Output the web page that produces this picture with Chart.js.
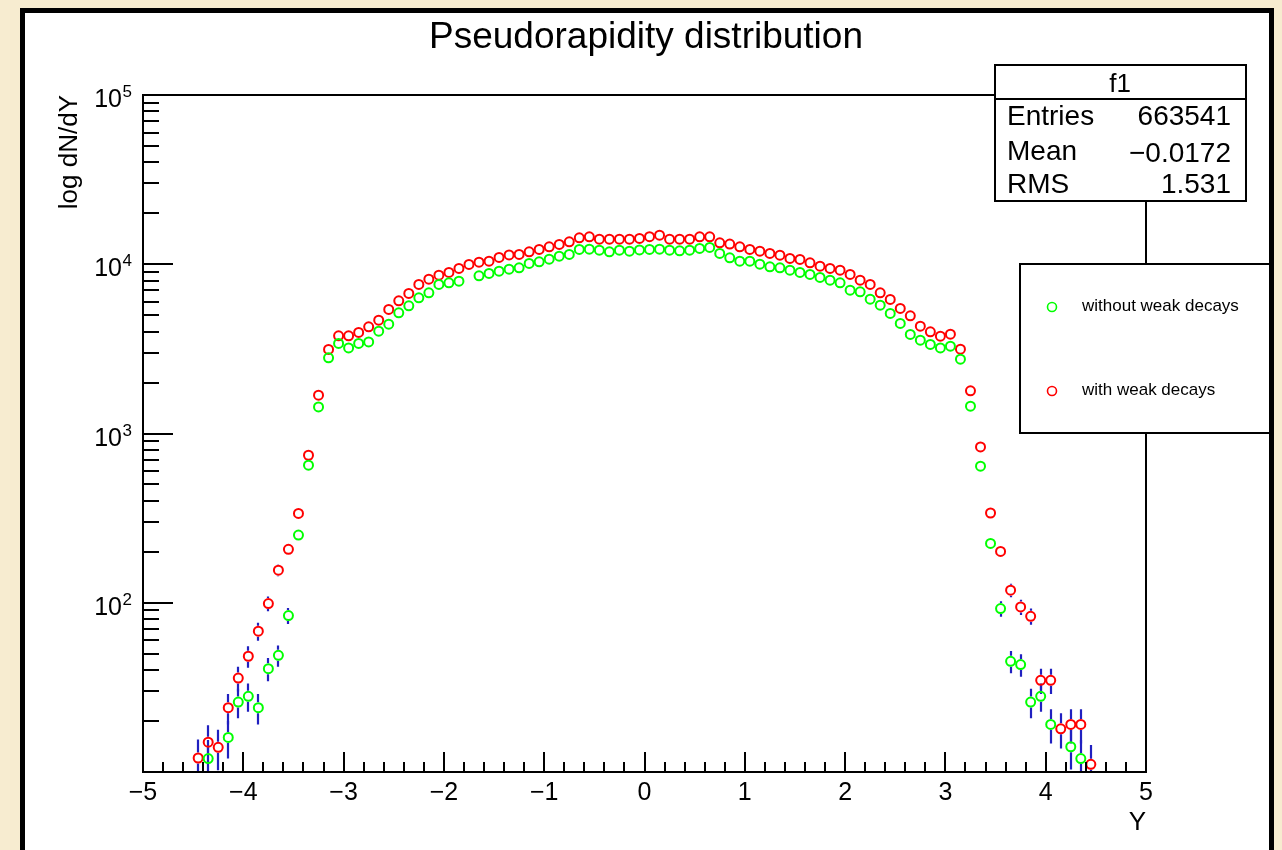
<!DOCTYPE html>
<html>
<head>
<meta charset="utf-8">
<title>Pseudorapidity distribution</title>
<script src="https://cdn.jsdelivr.net/npm/chart.js@4.4.1/dist/chart.umd.min.js"></script>
<style>
    html, body { margin: 0; padding: 0; background: #f7ecd0; }
    #wrap { width: 1282px; height: 850px; position: relative; }
</style>
</head>
<body>
<div id="wrap"><canvas id="Chart"></canvas></div>
<script>
// bin centres (width 0.1)
const binCenters = [
    -4.45, -4.35, -4.25, -4.15, -4.05, -3.95, -3.85, -3.75, -3.65, -3.55,
    -3.45, -3.35, -3.25, -3.15, -3.05, -2.95, -2.85, -2.75, -2.65, -2.55,
    -2.45, -2.35, -2.25, -2.15, -2.05, -1.95, -1.85, -1.75, -1.65, -1.55,
    -1.45, -1.35, -1.25, -1.15, -1.05, -0.95, -0.85, -0.75, -0.65, -0.55,
    -0.45, -0.35, -0.25, -0.15, -0.05, 0.05, 0.15, 0.25, 0.35, 0.45,
    0.55, 0.65, 0.75, 0.85, 0.95, 1.05, 1.15, 1.25, 1.35, 1.45,
    1.55, 1.65, 1.75, 1.85, 1.95, 2.05, 2.15, 2.25, 2.35, 2.45,
    2.55, 2.65, 2.75, 2.85, 2.95, 3.05, 3.15, 3.25, 3.35, 3.45,
    3.55, 3.65, 3.75, 3.85, 3.95, 4.05, 4.15, 4.25, 4.35, 4.45
];

const withoutWeak = [
    null, 12.0, null, 16.0, 25.9, 28.0, 24.0, 40.8, 48.9, 84.0,
    251, 650, 1436, 2798, 3403, 3205, 3403, 3478, 4025, 4424,
    5163, 5677, 6330, 6776, 7597, 7762, 7945, null, 8540, 8823,
    9104, 9354, 9522, 10110, 10330, 10720, 11160, 11430, 12230, 12280,
    12110, 11840, 12110, 11950, 12150, 12230, 12280, 12110, 12010, 12110,
    12400, 12570, 11580, 10910, 10430, 10430, 10010, 9652, 9522, 9229,
    8944, 8704, 8356, 8054, 7762, 7031, 6870, 6218, 5732, 5120,
    4467, 3847, 3559, 3357, 3205, 3281, 2749, 1450, 641, 224,
    92.4, 45.1, 43.1, 25.9, 28.0, 19.1, null, 14.1, 12.0, null
];

const withWeak = [
    12.1, 15.0, 14.0, 24.0, 35.9, 48.3, 67.9, 98.9, 155.7, 207,
    337, 744, 1684, 3137, 3775, 3775, 3954, 4266, 4673, 5406,
    6077, 6720, 7597, 8166, 8622, 8944, 9446, 9973, 10290, 10430,
    10970, 11360, 11430, 11840, 12230, 12670, 13090, 13560, 14320, 14520,
    14070, 14070, 14070, 14070, 14210, 14560, 14860, 14070, 14070, 14070,
    14520, 14520, 13380, 13150, 12670, 12230, 11950, 11580, 11320, 10820,
    10680, 10190, 9745, 9446, 9229, 8704, 8054, 7597, 6776, 6194,
    5480, 4955, 4307, 3987, 3758, 3863, 3150, 1786, 833, 339,
    201, 118.6, 94.5, 83.2, 34.8, 34.8, 18.0, 19.1, 19.1, 11.1
];

const xTickLabels = [-5, -4, -3, -2, -1, 0, 1, 2, 3, 4, 5];
const yDecades = [10, 100, 1000, 10000, 100000];
const yDecadeLabels = ['', '2', '3', '4', '5'];
const seriesNames = ['without weak decays', 'with weak decays'];
const statsRows = [['Entries', '663541'], ['Mean', '\u22120.0172'], ['RMS', '1.531']];

const FONT = '"Liberation Sans", Arial, Helvetica, sans-serif';

document.addEventListener("DOMContentLoaded", function () {

    function toPoints(values) {
        const pts = [];
        values.forEach((v, i) => {
            if (v !== null) pts.push({ x: binCenters[i], y: v });
        });
        return pts;
    }

    function fmt(v) {
        return v < 0 ? '\u2212' + Math.abs(v) : String(v);
    }

    const rootStyle = {
        id: 'rootStyle',
        beforeDraw(chart) {
            const ctx = chart.ctx;
            ctx.save();
            ctx.fillStyle = '#f7ecd0';
            ctx.fillRect(0, 0, chart.width, chart.height);
            ctx.fillStyle = '#ffffff';
            ctx.fillRect(20, 8, 1254, 900);
            ctx.strokeStyle = '#000';
            ctx.lineWidth = 5;
            ctx.strokeRect(22.5, 10.5, 1249, 900);
            ctx.restore();
        },
        beforeDatasetsDraw(chart) {
            // poisson error bars
            const ctx = chart.ctx;
            const xs = chart.scales.x, ys = chart.scales.y;
            const area = chart.chartArea;
            ctx.save();
            ctx.beginPath();
            ctx.rect(area.left, area.top, area.right - area.left, area.bottom - area.top);
            ctx.clip();
            ctx.strokeStyle = '#2020c0';
            ctx.lineWidth = 2.2;
            const gap = 5.5;
            chart.data.datasets.forEach(ds => {
                ds.data.forEach(p => {
                    const err = Math.sqrt(p.y);
                    const px = Math.round(xs.getPixelForValue(p.x));
                    const py = ys.getPixelForValue(p.y);
                    const top = ys.getPixelForValue(p.y + err);
                    const lo = p.y - err > 0.01 ? p.y - err : 0.01;
                    const bot = ys.getPixelForValue(lo);
                    ctx.beginPath();
                    if (top < py - gap) {
                        ctx.moveTo(px, top);
                        ctx.lineTo(px, py - gap);
                    }
                    if (bot > py + gap) {
                        ctx.moveTo(px, py + gap);
                        ctx.lineTo(px, Math.min(bot, area.bottom + 5));
                    }
                    ctx.stroke();
                });
            });
            ctx.restore();
        },
        afterDraw(chart) {
            const ctx = chart.ctx;
            const xs = chart.scales.x, ys = chart.scales.y;
            const a = chart.chartArea;
            ctx.save();
            ctx.strokeStyle = '#000';
            ctx.fillStyle = '#000';

            // frame
            ctx.lineWidth = 2;
            ctx.strokeRect(a.left, a.top, a.right - a.left, a.bottom - a.top);

            // x ticks
            ctx.beginPath();
            for (let k = 0; k <= 50; k++) {
                const v = -5 + k * 0.2;
                const px = Math.round(xs.getPixelForValue(v));
                const len = (k % 5 === 0) ? 20 : 10;
                ctx.moveTo(px, a.bottom);
                ctx.lineTo(px, a.bottom - len);
            }
            // y ticks
            yDecades.forEach((d, i) => {
                const py = Math.round(ys.getPixelForValue(d));
                ctx.moveTo(a.left, py);
                ctx.lineTo(a.left + 30, py);
                if (i < yDecades.length - 1) {
                    for (let m = 2; m <= 9; m++) {
                        const pm = Math.round(ys.getPixelForValue(d * m));
                        ctx.moveTo(a.left, pm);
                        ctx.lineTo(a.left + 16, pm);
                    }
                }
            });
            ctx.stroke();

            // x labels
            ctx.font = '25px ' + FONT;
            ctx.textAlign = 'center';
            ctx.textBaseline = 'alphabetic';
            xTickLabels.forEach(v => {
                ctx.fillText(fmt(v), xs.getPixelForValue(v), 800);
            });

            // y labels 10^n
            yDecades.forEach((d, i) => {
                if (!yDecadeLabels[i]) return;
                const py = ys.getPixelForValue(d);
                ctx.font = '25px ' + FONT;
                ctx.textAlign = 'right';
                ctx.fillText('10', 122, py + 12);
                ctx.font = '17px ' + FONT;
                ctx.textAlign = 'left';
                ctx.fillText(yDecadeLabels[i], 122.5, py + 2);
            });

            // axis titles
            ctx.font = '26px ' + FONT;
            ctx.textAlign = 'right';
            ctx.fillText('Y', a.right, 830);
            ctx.save();
            ctx.translate(77, a.top);
            ctx.rotate(-Math.PI / 2);
            ctx.textAlign = 'right';
            ctx.fillText('log dN/dY', 0, 0);
            ctx.restore();

            // title
            ctx.font = '37px ' + FONT;
            ctx.textAlign = 'center';
            ctx.fillText('Pseudorapidity distribution', 646, 48);

            // stats box
            ctx.fillStyle = '#fff';
            ctx.fillRect(995, 65, 251, 136);
            ctx.lineWidth = 2;
            ctx.strokeRect(995, 65, 251, 136);
            ctx.beginPath();
            ctx.moveTo(995, 99);
            ctx.lineTo(1246, 99);
            ctx.stroke();
            ctx.fillStyle = '#000';
            ctx.font = '26px ' + FONT;
            ctx.textAlign = 'center';
            ctx.fillText('f1', 1120, 92);
            const rowBase = [125, 160, 193];
            statsRows.forEach((r, i) => {
                ctx.font = '28px ' + FONT;
                ctx.textAlign = 'left';
                ctx.fillText(r[0], 1007, rowBase[i]);
                ctx.textAlign = 'right';
                ctx.fillText(r[1], 1231, rowBase[i] + (i === 1 ? 2 : 0));
            });

            // legend
            ctx.fillStyle = '#fff';
            ctx.fillRect(1020, 264, 260, 169);
            ctx.strokeRect(1020, 264, 260, 169);
            const legY = [306, 390];
            ctx.font = '17px ' + FONT;
            ctx.textAlign = 'left';
            ctx.textBaseline = 'middle';
            chart.data.datasets.forEach((ds, i) => {
                ctx.beginPath();
                ctx.lineWidth = 1.6;
                ctx.strokeStyle = ds.borderColor;
                ctx.arc(1052, legY[i] + 1, 4.5, 0, Math.PI * 2);
                ctx.stroke();
                ctx.fillStyle = '#000';
                ctx.fillText(ds.label, 1082, legY[i]);
            });
            ctx.restore();

            // panel right border over legend
            ctx.save();
            ctx.fillStyle = '#f7ecd0';
            ctx.fillRect(1274, 0, 10, 850);
            ctx.strokeStyle = '#000';
            ctx.lineWidth = 5;
            ctx.beginPath();
            ctx.moveTo(1271.5, 8);
            ctx.lineTo(1271.5, 850);
            ctx.stroke();
            ctx.restore();
        }
    };

    const config = {
        type: 'scatter',
        data: {
            datasets: [{
                label: seriesNames[0],
                data: toPoints(withoutWeak),
                borderColor: '#00ff00',
                backgroundColor: 'rgba(0,0,0,0)',
                pointRadius: 4.5,
                pointBorderWidth: 2,
                pointHoverRadius: 4.5
            }, {
                label: seriesNames[1],
                data: toPoints(withWeak),
                borderColor: '#ff0000',
                backgroundColor: 'rgba(0,0,0,0)',
                pointRadius: 4.5,
                pointBorderWidth: 2,
                pointHoverRadius: 4.5
            }]
        },
        options: {
            responsive: true,
            maintainAspectRatio: false,
            animation: false,
            devicePixelRatio: 1,
            layout: {
                padding: { left: 143, right: 136, top: 95, bottom: 78 }
            },
            plugins: {
                legend: { display: false },
                tooltip: { enabled: false }
            },
            scales: {
                x: { type: 'linear', min: -5, max: 5, display: false },
                y: { type: 'logarithmic', min: 10, max: 100000, display: false }
            }
        },
        plugins: [rootStyle]
    };

    new Chart(document.getElementById('Chart'), config);
});
</script>
</body>
</html>
